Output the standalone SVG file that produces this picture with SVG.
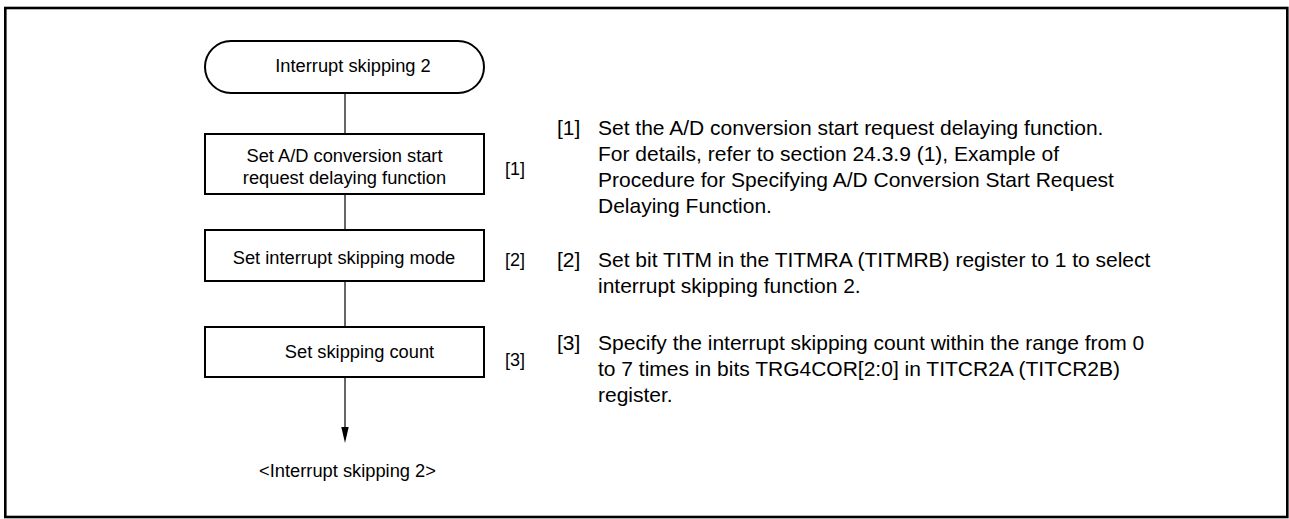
<svg xmlns="http://www.w3.org/2000/svg" width="1289" height="519" viewBox="0 0 1289 519">
<style>
  .frame{fill:#fff;stroke:#000;stroke-width:2.6}
  .node{fill:#fff;stroke:#000;stroke-width:2}
  .t{font-family:"Liberation Sans",Arial,sans-serif;font-size:18.3px;fill:#000}
  .c{text-anchor:middle}
  .d{font-family:"Liberation Sans",Arial,sans-serif;font-size:21px;fill:#000}
  .lbl{font-family:"Liberation Sans",Arial,sans-serif;font-size:18px;fill:#000}
  .edge{stroke:#000;stroke-width:1.2;fill:none}
</style>
<defs>
  <marker id="arr" viewBox="0 0 8 16" refX="8" refY="4" markerWidth="16" markerHeight="8" markerUnits="userSpaceOnUse" orient="auto">
    <path d="M0,0 L16,4 L0,8 Z" fill="#000"/>
  </marker>
</defs>
<rect class="frame" x="5.3" y="8" width="1282" height="509"/>
<g id="connectors">
  <line class="edge" x1="345" y1="93" x2="345" y2="134"/>
  <line class="edge" x1="345" y1="194" x2="345" y2="230"/>
  <line class="edge" x1="345" y1="281" x2="345" y2="327"/>
  <line class="edge" x1="345" y1="377" x2="345" y2="428"/>
  <path d="M341.3,427 L348.7,427 L345,443 Z" fill="#000"/>
</g>
<g id="start">
  <rect class="node" x="205" y="41" width="279" height="52" rx="26" ry="26"/>
  <text class="t c" x="353" y="72">Interrupt skipping 2</text>
</g>
<g id="step1">
  <rect class="node" x="205" y="134" width="279" height="60"/>
  <text class="t c" x="344.5" y="162">Set A/D conversion start</text>
  <text class="t c" x="344.5" y="184">request delaying function</text>
  <text class="lbl" x="505" y="175">[1]</text>
</g>
<g id="step2">
  <rect class="node" x="205" y="230" width="279" height="51"/>
  <text class="t c" x="344" y="264">Set interrupt skipping mode</text>
  <text class="lbl" x="505" y="266">[2]</text>
</g>
<g id="step3">
  <rect class="node" x="205" y="327" width="279" height="50"/>
  <text class="t c" x="359.5" y="358">Set skipping count</text>
  <text class="lbl" x="505" y="366">[3]</text>
</g>
<g id="end">
  <text class="t c" x="347.5" y="477">&lt;Interrupt skipping 2&gt;</text>
</g>
<g id="notes">
  <text class="d" x="557" y="135">[1]</text>
  <text class="d" x="598" y="135">Set the A/D conversion start request delaying function.</text>
  <text class="d" x="598" y="161">For details, refer to section 24.3.9 (1), Example of</text>
  <text class="d" x="598" y="187">Procedure for Specifying A/D Conversion Start Request</text>
  <text class="d" x="598" y="213">Delaying Function.</text>
  <text class="d" x="557" y="267">[2]</text>
  <text class="d" x="598" y="267">Set bit TITM in the TITMRA (TITMRB) register to 1 to select</text>
  <text class="d" x="598" y="293">interrupt skipping function 2.</text>
  <text class="d" x="557" y="350">[3]</text>
  <text class="d" x="598" y="350">Specify the interrupt skipping count within the range from 0</text>
  <text class="d" x="598" y="376">to 7 times in bits TRG4COR[2:0] in TITCR2A (TITCR2B)</text>
  <text class="d" x="598" y="402">register.</text>
</g>
</svg>
